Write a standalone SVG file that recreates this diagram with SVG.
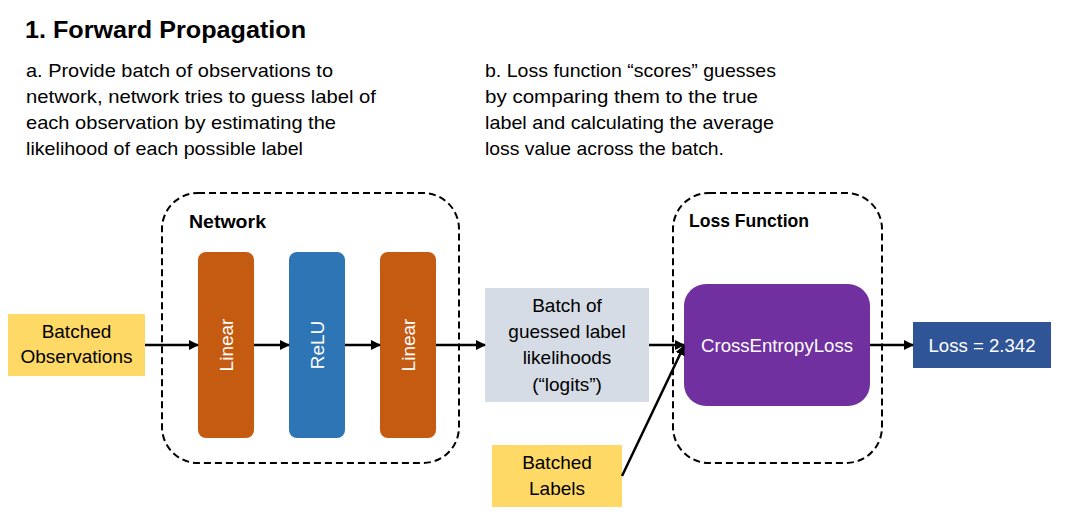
<svg xmlns="http://www.w3.org/2000/svg" width="1067" height="520" viewBox="0 0 1067 520">
<defs>
<marker id="ah" viewBox="0 0 10 10" refX="9" refY="5" markerWidth="4" markerHeight="4" orient="auto" markerUnits="strokeWidth">
<path d="M0,0 L10,5 L0,10 z" fill="#000"/>
</marker>
<style>
text{font-family:"Liberation Sans",Arial,sans-serif;}
.t{font-size:19px;fill:#000;}
.title{font-size:24px;font-weight:bold;fill:#000;}
.lbl{font-size:19px;font-weight:bold;fill:#000;}
.nt{font-size:19px;fill:#000;text-anchor:middle;}
.wt{font-size:19px;fill:#fff;text-anchor:middle;}
.dash{fill:none;stroke:#000;stroke-width:2;stroke-dasharray:7 4;}
.conn{stroke:#000;stroke-width:2.5;fill:none;marker-end:url(#ah);}
</style>
</defs>
<rect width="1067" height="520" fill="#fff"/>
<g id="header">
<text class="title" x="25" y="38" textLength="281" lengthAdjust="spacingAndGlyphs">1. Forward Propagation</text>
<text class="t" x="26" y="77" textLength="307" lengthAdjust="spacingAndGlyphs">a. Provide batch of observations to</text>
<text class="t" x="26" y="103" textLength="350" lengthAdjust="spacingAndGlyphs">network, network tries to guess label of</text>
<text class="t" x="26" y="129" textLength="310" lengthAdjust="spacingAndGlyphs">each observation by estimating the</text>
<text class="t" x="26" y="155" textLength="277" lengthAdjust="spacingAndGlyphs">likelihood of each possible label</text>
<text class="t" x="485" y="77" textLength="291" lengthAdjust="spacingAndGlyphs">b. Loss function “scores” guesses</text>
<text class="t" x="485" y="103" textLength="273" lengthAdjust="spacingAndGlyphs">by comparing them to the true</text>
<text class="t" x="485" y="129" textLength="289" lengthAdjust="spacingAndGlyphs">label and calculating the average</text>
<text class="t" x="485" y="155" textLength="239" lengthAdjust="spacingAndGlyphs">loss value across the batch.</text>
</g>
<g id="network">
<rect class="dash" x="162" y="193" width="297" height="270" rx="36"/>
<text class="lbl" x="189" y="228" textLength="77" lengthAdjust="spacingAndGlyphs">Network</text>
</g>
<g id="lossfunction">
<rect class="dash" x="673" y="193" width="209" height="270" rx="36"/>
<text class="lbl" x="689" y="227" textLength="120" lengthAdjust="spacingAndGlyphs">Loss Function</text>
</g>
<g id="batched-observations">
<rect x="8" y="314" width="137" height="62" fill="#FFD966"/>
<text class="nt" x="76.5" y="338">Batched</text>
<text class="nt" x="76.5" y="363">Observations</text>
</g>
<g id="linear1">
<rect x="198" y="252" width="56" height="186" rx="8" fill="#C55A11"/>
<text class="wt" transform="translate(233,345) rotate(-90)">Linear</text>
</g>
<g id="relu">
<rect x="289" y="252" width="56" height="186" rx="8" fill="#2E75B6"/>
<text class="wt" transform="translate(324,345) rotate(-90)">ReLU</text>
</g>
<g id="linear2">
<rect x="380" y="252" width="56" height="186" rx="8" fill="#C55A11"/>
<text class="wt" transform="translate(415,345) rotate(-90)">Linear</text>
</g>
<g id="logits">
<rect x="485" y="288" width="164" height="114" fill="#D6DCE5"/>
<text class="nt" x="567" y="312">Batch of</text>
<text class="nt" x="567" y="338">guessed label</text>
<text class="nt" x="567" y="364">likelihoods</text>
<text class="nt" x="567" y="391">(“logits”)</text>
</g>
<g id="batched-labels">
<rect x="492" y="445" width="130" height="62" fill="#FFD966"/>
<text class="nt" x="557" y="469">Batched</text>
<text class="nt" x="557" y="495">Labels</text>
</g>
<g id="crossentropy">
<rect x="684" y="284" width="186" height="122" rx="22" fill="#7030A0"/>
<text class="wt" x="777" y="352" textLength="152" lengthAdjust="spacingAndGlyphs">CrossEntropyLoss</text>
</g>
<g id="loss">
<rect x="913" y="322" width="138" height="46" fill="#2F5597"/>
<text class="wt" x="982" y="352" textLength="107" lengthAdjust="spacingAndGlyphs">Loss = 2.342</text>
</g>
<g id="connectors">
<line class="conn" x1="145" y1="345" x2="198" y2="345"/>
<line class="conn" x1="254" y1="345" x2="289" y2="345"/>
<line class="conn" x1="345" y1="345" x2="380" y2="345"/>
<line class="conn" x1="436" y1="345" x2="485" y2="345"/>
<line class="conn" x1="649" y1="345" x2="684" y2="345"/>
<line class="conn" x1="622" y1="476" x2="684" y2="346"/>
<line class="conn" x1="870" y1="345" x2="913" y2="345"/>
</g>
</svg>
